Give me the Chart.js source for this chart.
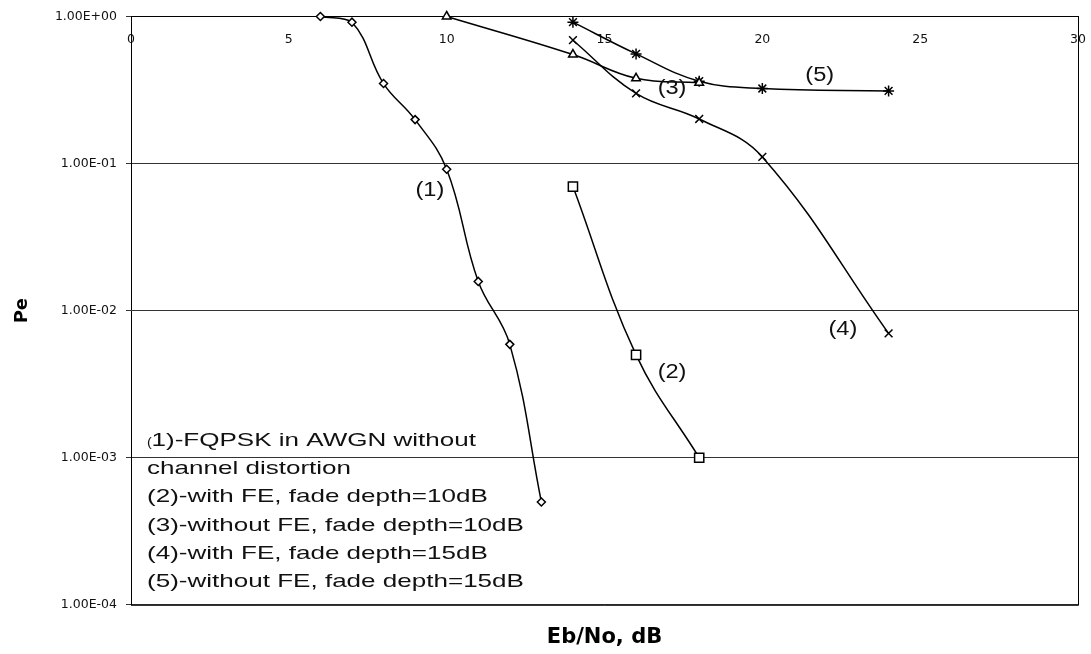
<!DOCTYPE html>
<html>
<head>
<meta charset="utf-8">
<script src="https://cdn.jsdelivr.net/npm/chart.js@4.4.1/dist/chart.umd.min.js"></script>
<style>
  html, body { margin: 0; padding: 0; background: #fff; }
  #wrap { width: 1091px; height: 654px; }
</style>
</head>
<body>
<div id="wrap"><canvas id="myChart" width="1091" height="654"></canvas></div>
<script>
// Eb/No (dB) and Pe
const x1 = [6, 7, 8, 9, 10, 11, 12, 13];
const pe1 = [1.0, 0.915, 0.35, 0.199, 0.0915, 0.0158, 0.0059, 0.0005];

const x2 = [14, 16, 18];
const pe2 = [0.0698, 0.005, 0.001];

const x3 = [10, 14, 16, 18];
const pe3 = [1.0, 0.551, 0.38, 0.354];

const x4 = [14, 16, 18, 20, 24];
const pe4 = [0.69, 0.30, 0.201, 0.111, 0.007];

const x5 = [14, 16, 18, 20, 24];
const pe5 = [0.915, 0.557, 0.363, 0.324, 0.312];

const xTicks = [0, 5, 10, 15, 20, 25, 30];
const yTicks = [1e-4, 1e-3, 1e-2, 1e-1, 1];

const curveTags = ['(1)', '(2)', '(3)', '(4)', '(5)'];
const noteLines = [
    '1)-FQPSK in AWGN without',
    'channel distortion',
    '(2)-with FE, fade depth=10dB',
    '(3)-without FE, fade depth=10dB',
    '(4)-with FE, fade depth=15dB',
    '(5)-without FE, fade depth=15dB'
];

// where the (n) tags sit, in axis units
const tagX = [9.47, 17.14, 17.14, 22.55, 21.82];
const tagY = [0.0654, 0.00378, 0.326, 0.0075, 0.399];

function pts(xs, ys) {
    return xs.map((x, i) => ({ x: x, y: ys[i] }));
}

function sciLabel(v) {
    let exp = Math.round(Math.log10(v));
    let mant = (v / Math.pow(10, exp)).toFixed(2);
    let e = Math.abs(exp);
    return mant + 'E' + (exp < 0 ? '-' : '+') + (e < 10 ? '0' + e : e);
}

function wideText(ctx, text, x, y, sx) {
    ctx.save();
    ctx.translate(x, y);
    ctx.scale(sx, 1);
    ctx.fillText(text, 0, 0);
    ctx.restore();
}

const notesPlugin = {
    id: 'notes',
    afterDraw(chart) {
        const ctx = chart.ctx;
        const area = chart.chartArea;
        const xs = chart.scales.x;
        const ys = chart.scales.y;

        // frame right + bottom
        ctx.save();
        ctx.strokeStyle = '#000';
        ctx.lineWidth = 1;
        ctx.beginPath();
        ctx.moveTo(area.right + 0.5, area.top);
        ctx.lineTo(area.right + 0.5, area.bottom + 0.5);
        ctx.lineTo(area.left, area.bottom + 0.5);
        ctx.stroke();

        ctx.fillStyle = '#111';
        ctx.textBaseline = 'middle';
        ctx.textAlign = 'center';
        ctx.font = '20px "Liberation Sans", Arial, sans-serif';
        curveTags.forEach((t, i) => {
            wideText(ctx, t, xs.getPixelForValue(tagX[i]), ys.getPixelForValue(tagY[i]), 1.18);
        });

        // text box in lower left
        ctx.textAlign = 'left';
        ctx.textBaseline = 'alphabetic';
        let left = area.left + 16;
        let base = area.bottom - 159;
        ctx.font = '12px "Liberation Sans", Arial, sans-serif';
        wideText(ctx, '(', left, base, 1.2);
        ctx.font = '19px "Liberation Sans", Arial, sans-serif';
        noteLines.forEach((line, i) => {
            let lx = i === 0 ? left + 4.5 : left;
            wideText(ctx, line, lx, base + i * 28.3, 1.37);
        });
        ctx.restore();
    }
};

const common = {
    borderColor: '#000',
    borderWidth: 1.5,
    tension: 0.4,
    pointBackgroundColor: '#fff',
    pointBorderColor: '#000',
    pointBorderWidth: 1.5,
    clip: false,
    fill: false
};

const data = {
    datasets: [
        Object.assign({ label: '(1)', data: pts(x1, pe1), pointStyle: 'rectRot', pointRadius: 4 }, common),
        Object.assign({ label: '(2)', data: pts(x2, pe2), pointStyle: 'rect', pointRadius: 6.5 }, common),
        Object.assign({ label: '(3)', data: pts(x3, pe3), pointStyle: 'triangle', pointRadius: 5 }, common),
        Object.assign({ label: '(4)', data: pts(x4, pe4), pointStyle: 'crossRot', pointRadius: 5.5 }, common),
        Object.assign({ label: '(5)', data: pts(x5, pe5), pointStyle: 'star', pointRadius: 5.5 }, common)
    ]
};

const tickFont = { family: 'DejaVu Sans', size: 12.5 };

let config = {
    type: 'line',
    data: data,
    options: {
        responsive: false,
        animation: false,
        devicePixelRatio: 1,
        layout: { padding: { left: 0, right: 13, top: 14, bottom: 0 } },
        plugins: {
            legend: { display: false },
            tooltip: { enabled: false },
            title: {
                display: true,
                position: 'bottom',
                fullSize: false,
                text: 'Eb/No, dB',
                color: '#000',
                font: { family: 'DejaVu Sans', size: 21, weight: 'bold' },
                padding: { top: 20, bottom: 4 }
            }
        },
        scales: {
            x: {
                type: 'linear',
                min: 0,
                max: 30,
                position: { y: 1 },
                afterBuildTicks: s => { s.ticks = xTicks.map(v => ({ value: v })); },
                afterFit: s => { s.paddingLeft = 0; s.paddingRight = 0; },
                ticks: { font: tickFont, color: '#111', padding: 16, maxRotation: 0, autoSkip: false },
                grid: { display: false, drawTicks: false },
                border: { display: true, color: '#000', width: 1 }
            },
            y: {
                type: 'logarithmic',
                min: 1e-4,
                max: 1,
                afterBuildTicks: s => { s.ticks = yTicks.map(v => ({ value: v })); },
                afterFit: s => { s.width = 131; },
                ticks: { font: tickFont, color: '#111', padding: 9, autoSkip: false, callback: v => sciLabel(v) },
                grid: { color: '#333', lineWidth: 1, tickLength: 5, drawTicks: true },
                border: { display: true, color: '#000', width: 1 },
                title: {
                    display: true,
                    text: 'Pe',
                    color: '#000',
                    font: { family: 'DejaVu Sans', size: 18, weight: 'bold' },
                    padding: { top: 12, bottom: 0 }
                }
            }
        }
    },
    plugins: [notesPlugin]
};

let myChart = new Chart(document.getElementById('myChart'), config);
</script>
</body>
</html>
